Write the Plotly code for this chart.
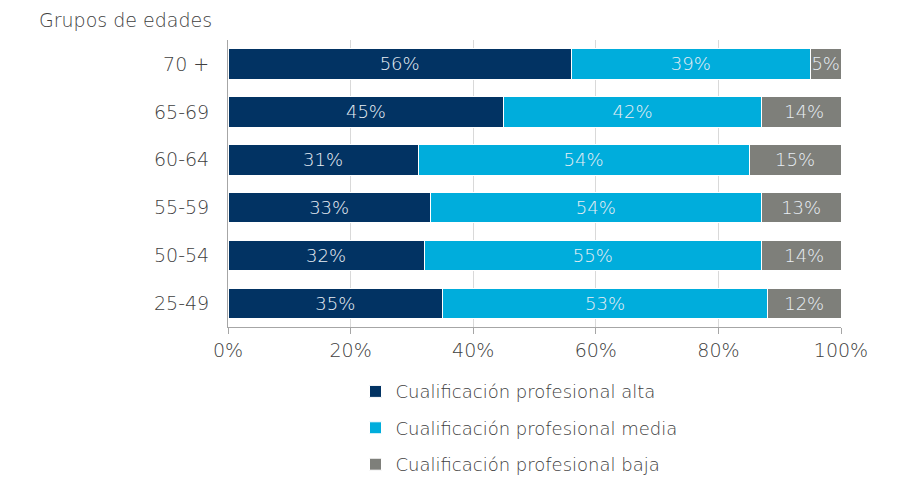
import plotly.graph_objects as go

grupos = ["25-49", "50-54", "55-59", "60-64", "65-69", "70 +"]
alta = [35, 32, 33, 31, 45, 56]
media = [53, 55, 54, 54, 42, 39]
baja = [12, 14, 13, 15, 14, 5]

series = [
    ("Cualificación profesional alta", alta, "#023363"),
    ("Cualificación profesional media", media, "#00ADDC"),
    ("Cualificación profesional baja", baja, "#7E7F7A"),
]

FONT = "DejaVu Sans"
GRIS = "#404040"

fig = go.Figure()
for i, (nombre, vals, color) in enumerate(series):
    fig.add_trace(go.Bar(
        y=grupos, x=vals, name=nombre, orientation="h",
        marker=dict(color=color, line=dict(color="white", width=1)),
        text=[f"{v}%" for v in vals],
        textposition="inside", insidetextanchor="middle",
        textangle=0, constraintext="none",
        textfont=dict(family=FONT, size=18, color="#E8EEF4", weight=200),
        legendgroup=f"g{i}",
        hoverinfo="skip",
    ))

fig.update_layout(
    barmode="stack",
    bargap=0.36,
    width=894, height=467,
    margin=dict(l=220, r=61, t=32, b=146),
    paper_bgcolor="white", plot_bgcolor="white",
    font=dict(family=FONT, size=18, color=GRIS, weight=200),
    showlegend=True,
    legend=dict(
        orientation="v", x=0.208, xanchor="left",
        yref="container", y=0.218, yanchor="top",
        font=dict(family=FONT, size=18, color=GRIS, weight=200),
        traceorder="grouped", tracegroupgap=10,
        itemwidth=30,
    ),
    annotations=[dict(
        text="Grupos de edades", xref="paper", yref="paper",
        x=-0.312, y=1.069, xanchor="left", yanchor="middle",
        showarrow=False,
        font=dict(family=FONT, size=19, color=GRIS, weight=200),
    )],
)

fig.update_xaxes(
    range=[0, 100], tickvals=[0, 20, 40, 60, 80, 100],
    ticktext=["0%", "20%", "40%", "60%", "80%", "100%"],
    showgrid=True, gridcolor="#D9D9D9", gridwidth=1,
    showline=True, linecolor="#A6A6A6", linewidth=1,
    ticks="outside", ticklen=6, tickcolor="#A6A6A6",
    zeroline=False, fixedrange=True,
    tickfont=dict(size=19),
)
fig.update_yaxes(
    showline=True, linecolor="#A6A6A6", linewidth=1,
    showgrid=False, ticks="", ticklabelstandoff=14,
    tickfont=dict(size=19),
)

fig.write_html("out.html")
